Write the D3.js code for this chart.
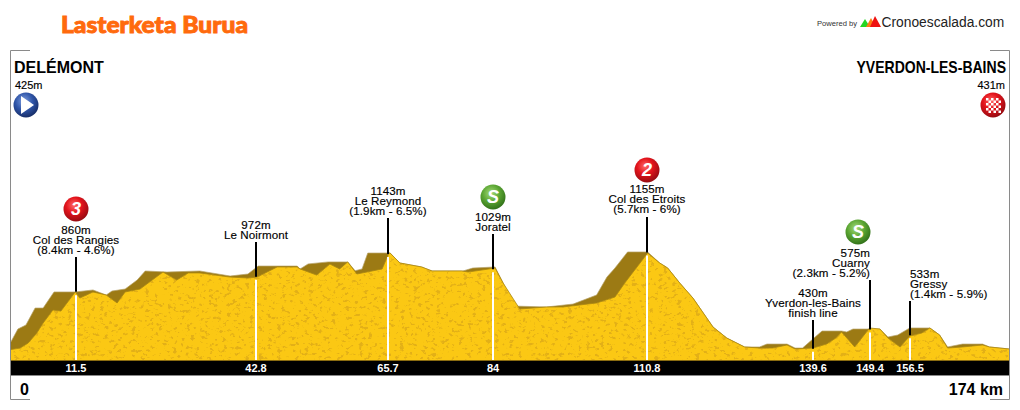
<!DOCTYPE html>
<html><head><meta charset="utf-8">
<script src="https://cdn.jsdelivr.net/npm/d3@7/dist/d3.min.js"></script>
<style>html,body{margin:0;padding:0;background:#fff}svg{display:block}text{font-family:"Liberation Sans",Arial,sans-serif}</style>
</head><body><svg id="c" width="1020" height="410"></svg>
<script>
const title="Lasterketa Burua";
const startName="DELÉMONT", startAlt="425m", endName="YVERDON-LES-BAINS", endAlt="431m";
const totalKm=174;
const ridgeKm=[0,1.2,2.6,4.2,5.6,7.5,11.2,14.3,16.6,17.6,19.9,22,23.4,27.2,32.9,38.2,41.3,43.1,49.9,50.4,51.8,55.3,58.7,60,61.2,62.2,66.1,67.8,71.6,73.4,78.8,80.5,84.4,85.8,87.7,93.4,98,102.1,103.9,105.3,107.5,111,113.1,114.5,116.6,118.9,122.4,124.8,127.9,130.5,131.8,135.3,136.7,138,141.4,144.8,145.7,146.8,151.5,152.9,154.6,156.7,160.2,161.9,163.3,165.9,169.4,170.6,174];
const ridgeAlt=[484,579,609,737,737,858,858,873,835,865,880,948,1016,1008,1016,978,993,1053,1053,1031,1069,1084,1084,1018,1031,1151,1151,1076,1046,1016,1016,1038,1046,925,752,745,767,835,970,1038,1159,1159,1076,1038,925,812,594,511,444,444,466,466,436,436,564,564,557,579,579,519,534,587,587,534,444,466,466,444,429];
const frontKm=[0,1.6,3,4.5,5.6,7.3,8.7,11.2,12,14.3,16.6,18.5,19.9,22.5,26.5,28.9,30.9,32.9,38.2,41.3,42.9,46.4,49.9,50.4,53.3,55.6,57.3,58.7,60.3,64.7,65.9,66.1,67.8,71.6,73.4,78.6,79.7,84.4,85.8,88.7,93.4,96.2,102.1,105.3,107,111,113.1,114.5,116.6,118.9,122.4,124.8,127.9,130.5,132.8,135.3,136.7,139.8,142.2,143.8,144.8,147.1,149.7,151.5,152.9,155,156.7,158.8,160.2,161.9,163.3,165.9,169.4,170.6,174];
const frontAlt=[425,436,474,549,624,722,714,858,812,858,835,775,858,880,1008,948,1001,1001,970,963,970,1046,1046,1031,985,1068,1031,1084,993,1031,1151,1151,1076,1046,1016,1016,1008,1038,925,730,745,745,775,820,925,1151,1076,1038,925,812,594,511,444,436,436,459,429,436,466,511,557,444,587,579,511,444,526,549,587,534,436,444,459,444,429];
const markKm=[11.5,42.8,65.7,84,110.8,139.6,149.4,156.5];
const markAlt=[860,972,1143,1029,1155,430,575,533];
const markLines=[["860m","Col des Rangies","(8.4km - 4.6%)"],["972m","Le Noirmont"],["1143m","Le Reymond","(1.9km - 6.5%)"],["1029m","Joratel"],["1155m","Col des Etroits","(5.7km - 6%)"],["430m","Yverdon-les-Bains","finish line"],["575m","Cuarny","(2.3km - 5.2%)"],["533m","Gressy","(1.4km - 5.9%)"]];
const markCat=["3","","","S","2","","S",""];

// layout
const svg=d3.select("#c");
const L=11,R=1009,base=360;
const x=d3.scaleLinear().domain([0,totalKm]).range([L,R]);
const y=d3.scaleLinear().domain([425,1155]).range([349.5,252.5]);
const poleNudge=[-1,0,0,0,0,1,2,1];
const poleTop=[257,242,218,234,217,320,280,301];
const textBase=[234,229,195,221,193,297,257,278];
const textAnchor=["middle","middle","middle","middle","middle","middle","end","start"];
const iconY=[209,null,null,197,170,null,232,null];

const defs=svg.append("defs");
function grad(id,stops){const g=defs.append("radialGradient").attr("id",id).attr("cx","42%").attr("cy","35%").attr("r","70%");
 stops.forEach(([o,c])=>g.append("stop").attr("offset",o).attr("stop-color",c));}
grad("gRed",[[0,"#ff6a6a"],[.45,"#e3141c"],[1,"#8c0a10"]]);
grad("gGreen",[[0,"#a6dc7a"],[.5,"#5aa532"],[1,"#2c6a16"]]);
grad("gBlue",[[0,"#7f9fe0"],[.5,"#2f55a8"],[1,"#14285f"]]);
const f=defs.append("filter").attr("id","tex").attr("x",0).attr("y",0).attr("width","100%").attr("height","100%").attr("color-interpolation-filters","sRGB");
f.append("feTurbulence").attr("type","fractalNoise").attr("baseFrequency","0.22 0.3").attr("numOctaves",3).attr("seed",4).attr("result","n");
f.append("feColorMatrix").attr("in","n").attr("type","matrix").attr("values","0 0 0 0 0.89  0 0 0 0 0.69  0 0 0 0 0.09  0 0 0 10 -5.9").attr("result","s");
f.append("feComposite").attr("in","s").attr("in2","SourceAlpha").attr("operator","in");

// frame
const fr=svg.append("g").attr("stroke","#8a8a8a").attr("fill","none");
fr.append("path").attr("d",`M30 50.5H10.5V399.5H30M990 50.5H1009.5V399.5H990`);

const area=(k,a)=>d3.area().x((d,i)=>x(k[i])).y0(base).y1((d,i)=>y(a[i]))(k);
const topLine=(k,a)=>d3.line().x((d,i)=>x(k[i])).y((d,i)=>y(a[i]))(k);
svg.append("path").attr("d",area(ridgeKm,ridgeAlt)).attr("fill","#9c7a14");
svg.append("path").attr("d",topLine(ridgeKm,ridgeAlt)).attr("fill","none").attr("stroke","#b8a46a").attr("stroke-width",.7);
svg.append("path").attr("d",area(frontKm,frontAlt)).attr("fill","#fbc814");
svg.append("path").attr("d",area(frontKm,frontAlt)).attr("fill","#000").attr("filter","url(#tex)");
svg.append("path").attr("d",topLine(frontKm,frontAlt)).attr("fill","none").attr("stroke","#a98712").attr("stroke-width",.8);

// band
svg.append("rect").attr("x",L).attr("y",base+1).attr("width",R-L).attr("height",14).attr("fill","#000");
svg.append("line").attr("x1",L).attr("x2",R).attr("y1",375.5).attr("y2",375.5).attr("stroke","#8a8a8a");
svg.append("line").attr("x1",L).attr("x2",R).attr("y1",360.5).attr("y2",360.5).attr("stroke","#8a6c10");

const frontAt=d3.scaleLinear().domain(frontKm).range(frontAlt);
markKm.forEach((k,i)=>{
 const px=Math.round(x(k))+poleNudge[i];
 svg.append("line").attr("x1",px).attr("x2",px).attr("y1",poleTop[i]).attr("y2",y(markAlt[i])).attr("stroke","#000").attr("stroke-width",2);
 svg.append("line").attr("x1",px).attr("x2",px).attr("y1",Math.max(y(frontAt(k))+1,y(markAlt[i])+3)).attr("y2",base).attr("stroke","#fff").attr("stroke-width",2);
 const t=svg.append("g");
 markLines[i].forEach((s,j)=>t.append("text").attr("x",px).attr("y",textBase[i]+j*10.2).attr("text-anchor",textAnchor[i]).attr("font-size",11.6).attr("fill","#000").attr("stroke","#000").attr("stroke-width",.15).attr("letter-spacing",.1).text(s));
 svg.append("text").attr("x",px).attr("y",372).attr("text-anchor","middle").attr("font-size",11).attr("font-weight","bold").attr("fill","#fff").text(k);
 if(iconY[i]!==null) icon(i==6?858:px,iconY[i],markCat[i]==="S"?"gGreen":"gRed",markCat[i]);
});
function icon(cx,cy,g,label){
 svg.append("circle").attr("cx",cx).attr("cy",cy).attr("r",12.5).attr("fill",`url(#${g})`);
 if(label) svg.append("text").attr("x",cx).attr("y",cy+6).attr("text-anchor","middle").attr("font-size",18).attr("font-weight","bold").attr("font-style","italic").attr("fill","#fff").text(label);
}
// start / end
svg.append("text").attr("x",14).attr("y",73).attr("font-size",16).attr("font-weight","bold").text(startName);
svg.append("text").attr("x",15).attr("y",89).attr("font-size",11).attr("stroke","#000").attr("stroke-width",.15).text(startAlt);
icon(26,105,"gBlue","");
svg.append("path").attr("d","M21 96L34 105L21 114Z").attr("fill","#fff");
svg.append("text").attr("transform","translate(1006,73) scale(.877,1)").attr("text-anchor","end").attr("font-size",16).attr("font-weight","bold").text(endName);
svg.append("text").attr("x",1005).attr("y",89).attr("text-anchor","end").attr("font-size",11).attr("stroke","#000").attr("stroke-width",.15).text(endAlt);
icon(993,105,"gRed","");
d3.range(6).forEach(r=>d3.range(6).forEach(c=>{ if((r+c)%2==0) svg.append("rect").attr("x",986+c*2.5).attr("y",98+r*2.5).attr("width",2.5).attr("height",2.5).attr("fill","#fff");}));
svg.append("text").attr("x",20).attr("y",395).attr("font-size",16).attr("font-weight","bold").text("0");
svg.append("text").attr("x",1003).attr("y",395).attr("text-anchor","end").attr("font-size",16).attr("font-weight","bold").text(totalKm+" km");

// header
svg.append("text").attr("x",61).attr("y",33).attr("font-size",22).style("font-family","Lato").attr("font-weight",900).attr("fill","#ff6a0d").attr("stroke","#ff6a0d").attr("stroke-width",.9).attr("textLength",187).attr("lengthAdjust","spacingAndGlyphs").text(title);
svg.append("text").attr("x",817).attr("y",26).attr("font-size",7.6).attr("fill","#333").text("Powered by");
[["#22d622","M860 27L865 19L870 27Z"],["#ff7a12","M866 27L871 18L876 27Z"],["#ee1111","M870 27L875 16L881 27Z"]].forEach(([c,d])=>svg.append("path").attr("d",d).attr("fill",c));
svg.append("text").attr("x",881.5).attr("y",27).attr("font-size",13.8).attr("fill","#222").text("Cronoescalada.com");
</script></body></html>
